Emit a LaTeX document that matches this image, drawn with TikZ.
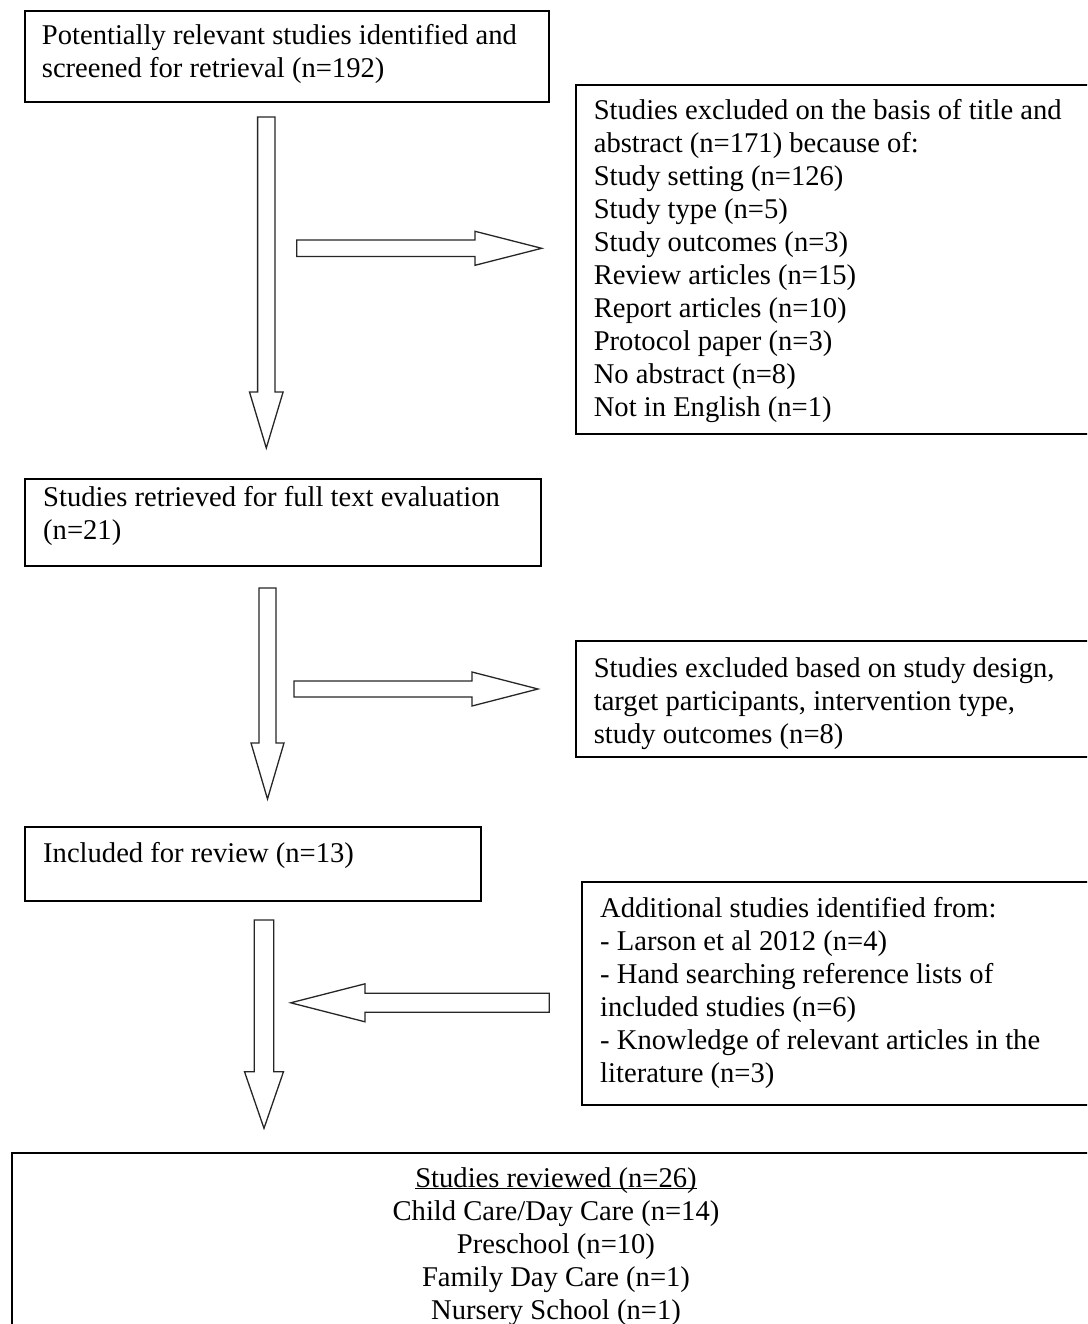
\documentclass[tikz,border=0pt]{standalone}
\usepackage{fontspec}
\setmainfont{Liberation Serif}
\usetikzlibrary{calc}
\begin{document}
\begin{tikzpicture}[x=1pt,y=-1pt]
    \newcommand{\bodyFont}[0]{\fontsize{28.6pt}{33pt}\selectfont}
    \newcommand{\wordGap}[0]{\spaceskip=7.15pt\relax}
    \newcommand{\blockArrow}[5]{% tail, tip, shaft half width, head half width, head length
      \coordinate (#2h) at ($(#2)!#5!(#1)$);
      \draw[barrow] ($(#1)!#3!90:(#2)$) -- ($(#2h)!#3!90:(#2)$) -- ($(#2h)!#4!90:(#2)$)
        -- (#2) -- ($(#2h)!#4!-90:(#2)$) -- ($(#2h)!#3!-90:(#2)$) -- ($(#1)!#3!-90:(#2)$) -- cycle;
    }
    
    \tikzstyle{box} = [rectangle, draw=black, line width=2pt, inner sep=0pt, anchor=north west]
    \tikzstyle{barrow} = [draw=black!85, line width=1.3pt, fill=white, line join=miter]
    \tikzstyle{txt} = [
      anchor=base west,
      inner sep=0pt,
      text width=600pt,
      align=left,
      font=\bodyFont,
      execute at begin node=\wordGap,
    ]
    
    \useasboundingbox (0,0) rectangle (1087,1324);
    \clip (0,0) rectangle (1087,1324);
    
    % boxes
    \node[box, minimum width=524pt, minimum height=91pt] (found) at (24,10) {};
    \node[box, minimum width=530pt, minimum height=349pt] (excl1) at (575,84) {};
    \node[box, minimum width=516pt, minimum height=87pt] (retr) at (24,478) {};
    \node[box, minimum width=530pt, minimum height=116pt] (excl2) at (575,640) {};
    \node[box, minimum width=456pt, minimum height=74pt] (incl) at (24,826) {};
    \node[box, minimum width=530pt, minimum height=223pt] (addl) at (581,881) {};
    \node[box, minimum width=1100pt, minimum height=200pt] (revd) at (11,1152) {};
    
    % texts
    \node[txt] (foundTxt) at (41.7,45) {
      Potentially relevant studies identified and\\
      screened for retrieval (n=192)
    };
    \node[txt] (excl1Txt) at (593.6,120) {
      Studies excluded on the basis of title and\\
      abstract (n=171) because of:\\
      Study setting (n=126)\\
      Study type (n=5)\\
      Study outcomes (n=3)\\
      Review articles (n=15)\\
      Report articles (n=10)\\
      Protocol paper (n=3)\\
      No abstract (n=8)\\
      Not in English (n=1)
    };
    \node[txt] (retrTxt) at (43,506) {
      Studies retrieved for full text evaluation\\
      (n=21)
    };
    \node[txt] (excl2Txt) at (593.6,677) {
      Studies excluded based on study design,\\
      target participants, intervention type,\\
      study outcomes (n=8)
    };
    \node[txt] (inclTxt) at (43,862) {Included for review (n=13)};
    \node[txt] (addlTxt) at (600,917) {
      Additional studies identified from:\\
      - Larson et al 2012 (n=4)\\
      - Hand searching reference lists of\\
      included studies (n=6)\\
      - Knowledge of relevant articles in the\\
      literature (n=3)
    };
    \node[txt, anchor=base, text width=900pt, align=center] (revdTxt) at (556,1187) {
      \underline{\smash{Studies reviewed (n=26)}}\\
      Child Care/Day Care (n=14)\\
      Preschool (n=10)\\
      Family Day Care (n=1)\\
      Nursery School (n=1)
    };
    
    % arrows
    \coordinate (down1Tail) at (266.3,117);
    \coordinate (down1Tip) at (266.3,448);
    \coordinate (right1Tail) at (296.7,248.3);
    \coordinate (right1Tip) at (541.7,248.3);
    \coordinate (down2Tail) at (267.5,588);
    \coordinate (down2Tip) at (267.5,799);
    \coordinate (right2Tail) at (294,689);
    \coordinate (right2Tip) at (538,689);
    \coordinate (down3Tail) at (264,920);
    \coordinate (down3Tip) at (264,1128.3);
    \coordinate (leftTail) at (549.3,1002.8);
    \coordinate (leftTip) at (290.7,1002.8);
    
    \blockArrow{down1Tail}{down1Tip}{8.7pt}{16.8pt}{56pt}
    \blockArrow{right1Tail}{right1Tip}{8.3pt}{17pt}{66.7pt}
    \blockArrow{down2Tail}{down2Tip}{8.5pt}{16.5pt}{56pt}
    \blockArrow{right2Tail}{right2Tip}{8pt}{17pt}{66pt}
    \blockArrow{down3Tail}{down3Tip}{9.8pt}{19.5pt}{56.6pt}
    \blockArrow{leftTail}{leftTip}{9.5pt}{19pt}{74.3pt}
  \end{tikzpicture}
\end{document}
